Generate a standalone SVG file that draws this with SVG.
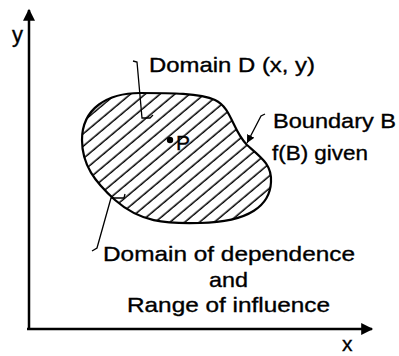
<svg xmlns="http://www.w3.org/2000/svg" width="399" height="356" viewBox="0 0 399 356">
<style>
  .ax{stroke:#000;stroke-width:2.5;fill:none}
  .ld{stroke:#000;stroke-width:1.3;fill:none}
  .blob{stroke:#000;stroke-width:2.2}
  text{font-family:"Liberation Sans",Arial,sans-serif;font-size:21px;fill:#000;stroke:#000;stroke-width:0.35}
</style>
<defs>
  <marker id="ah" viewBox="0 0 10 10" refX="10" refY="5" markerWidth="8" markerHeight="8" markerUnits="userSpaceOnUse" orient="auto">
    <path d="M0,0 L10,5 L0,10 z" fill="#000"/>
  </marker>
  <marker id="axh" viewBox="0 0 10 10" refX="9" refY="5" markerWidth="14" markerHeight="12" markerUnits="userSpaceOnUse" orient="auto">
    <path d="M0,0 L10,5 L0,10 z" fill="#000"/>
  </marker>
  <pattern id="hatch" width="20" height="9.5" patternUnits="userSpaceOnUse" patternTransform="rotate(-40)">
    <line x1="0" y1="4" x2="20" y2="4" stroke="#000" stroke-width="1.5"/>
  </pattern>
</defs>
<g id="connectors">
  <path id="y-axis" class="ax" d="M29,329 L29,10" marker-end="url(#axh)"/>
  <path id="x-axis" class="ax" d="M27,329 L372,329" marker-end="url(#axh)"/>
  <path class="ld" d="M133,61 L137,62 L142,118 L150,118 L153,115"/>
  <path class="ld" d="M125,194 L124,198 L111,198 L97,248 L92,251"/>
  <path class="ld" d="M265,114 L261,116 L247,143" marker-end="url(#ah)"/>
</g>
<g id="domain">
  <path class="blob" fill="url(#hatch)" d="M82,140 C82,108 108,93 140,93 C170,93 200,93 215,100 C232,108 232,130 247,145 C262,158 272,165 271,182 C270,205 250,222 200,223 C165,224 140,222 115,200 C95,182 82,165 82,140 Z"/>
</g>
<g id="point-p">
  <circle cx="170" cy="140" r="3.2" fill="#000"/>
  <text x="176" y="150">P</text>
</g>
<g id="labels">
  <text x="12" y="42" style="font-size:22px">y</text>
  <text x="342" y="351" style="font-size:21px">x</text>
  <text x="149" y="72" textLength="166" lengthAdjust="spacingAndGlyphs">Domain D (x, y)</text>
  <text x="273" y="128" textLength="123" lengthAdjust="spacingAndGlyphs">Boundary B</text>
  <text x="272" y="160" textLength="96" lengthAdjust="spacingAndGlyphs">f(B) given</text>
  <text x="103" y="261" textLength="252" lengthAdjust="spacingAndGlyphs">Domain of dependence</text>
  <text x="209" y="287" textLength="39" lengthAdjust="spacingAndGlyphs">and</text>
  <text x="127" y="312" textLength="203" lengthAdjust="spacingAndGlyphs">Range of influence</text>
</g>
</svg>
